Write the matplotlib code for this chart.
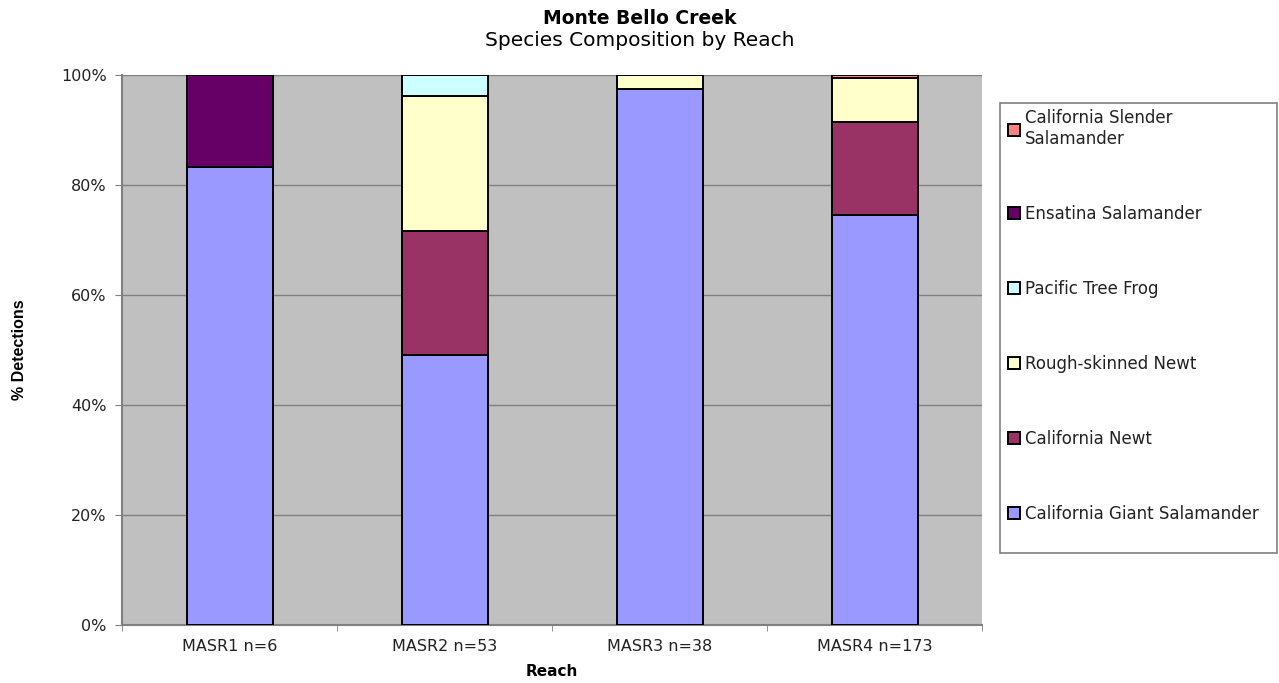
import matplotlib
matplotlib.use("Agg")
import matplotlib.pyplot as plt
from matplotlib.patches import Rectangle
import numpy as np

plt.rcParams['font.family'] = ['DejaVu Sans']

reaches = ["MASR1 n=6", "MASR2 n=53", "MASR3 n=38", "MASR4 n=173"]
species = ["California Giant Salamander", "California Newt", "Rough-skinned Newt",
           "Pacific Tree Frog", "Ensatina Salamander", "California Slender\nSalamander"]
# percentages per species (stack order bottom->top), per reach
cgs = [83.3, 49.1, 97.4, 74.6]
cn = [0.0, 22.6, 0.0, 16.8]
rsn = [0.0, 24.5, 2.6, 8.1]
ptf = [0.0, 3.8, 0.0, 0.0]
ens = [16.7, 0.0, 0.0, 0.0]
css = [0.0, 0.0, 0.0, 0.5]
series = [cgs, cn, rsn, ptf, ens, css]
colors = ["#9999FF", "#993366", "#FFFFCC", "#CCFFFF", "#660066", "#FF8080"]

W, H = 1279, 683
fig = plt.figure(figsize=(W/100, H/100), dpi=100)
ax = fig.add_axes([122/W, 1-625/H, 860/W, 550/H])
ax.set_facecolor("#C0C0C0")

x = np.arange(len(reaches))
bottom = np.zeros(len(reaches))
handles = []
for vals, col, lab in zip(series, colors, species):
    v = np.array(vals)
    b = ax.bar(x, v, width=0.4, bottom=bottom, color=col, edgecolor="black",
               linewidth=1.4, label=lab, zorder=3)
    handles.append(b)
    bottom += v

ax.set_xlim(-0.5, len(reaches)-0.5)
ax.set_ylim(0, 100)
yt = [0, 20, 40, 60, 80, 100]
ax.set_yticks(yt)
ax.set_yticklabels([f"{t}%" for t in yt], fontsize=11.5, color="#222222")
ax.set_xticks(x)
ax.set_xticklabels(reaches, fontsize=11.5, color="#222222")
ax.set_xticks(np.arange(-0.5, len(reaches), 1.0), minor=True)
ax.tick_params(axis='x', which='major', length=0, pad=10)
ax.tick_params(axis='x', which='minor', length=4, color="#808080")
ax.tick_params(axis='y', length=5, color="#808080", pad=6)
ax.yaxis.grid(True, color="#808080", linewidth=1.0, zorder=1)
ax.set_axisbelow(True)
for s in ["top", "right"]:
    ax.spines[s].set_visible(False)
for s in ["left", "bottom"]:
    ax.spines[s].set_color("#808080")
    ax.spines[s].set_linewidth(1.5)

ax.set_xlabel("Reach", fontsize=11, fontweight="bold", va="center")
ax.xaxis.set_label_coords(0.5, (625-672)/550)
ax.set_ylabel("% Detections", fontsize=11.5, fontweight="bold",
              family=["Liberation Sans Narrow", "Liberation Sans"], va="center")
ax.yaxis.set_label_coords((20-122)/860, 0.5)

fig.text(0.5, 1-19/H, "Monte Bello Creek", ha="center", va="center",
         fontsize=13.5, fontweight="bold")
fig.text(0.5, 1-41/H, "Species Composition by Reach", ha="center", va="center",
         fontsize=14.5)

# legend frame
fig.patches.append(Rectangle((1000/W, 1-553/H), 277/W, 450/H, transform=fig.transFigure,
                             facecolor="white", edgecolor="#808080", linewidth=1.2,
                             zorder=0))
leg = fig.legend(handles[::-1], species[::-1], loc="upper left",
                 bbox_to_anchor=(1000/W, 1-101/H),
                 fontsize=12, frameon=False, labelspacing=3.42, handlelength=0.7,
                 handleheight=0.7, handletextpad=0.3, borderpad=0.5,
                 borderaxespad=0.0)
for t in leg.get_texts():
    t.set_color("#222222")

fig.savefig("out.png", dpi=100)
